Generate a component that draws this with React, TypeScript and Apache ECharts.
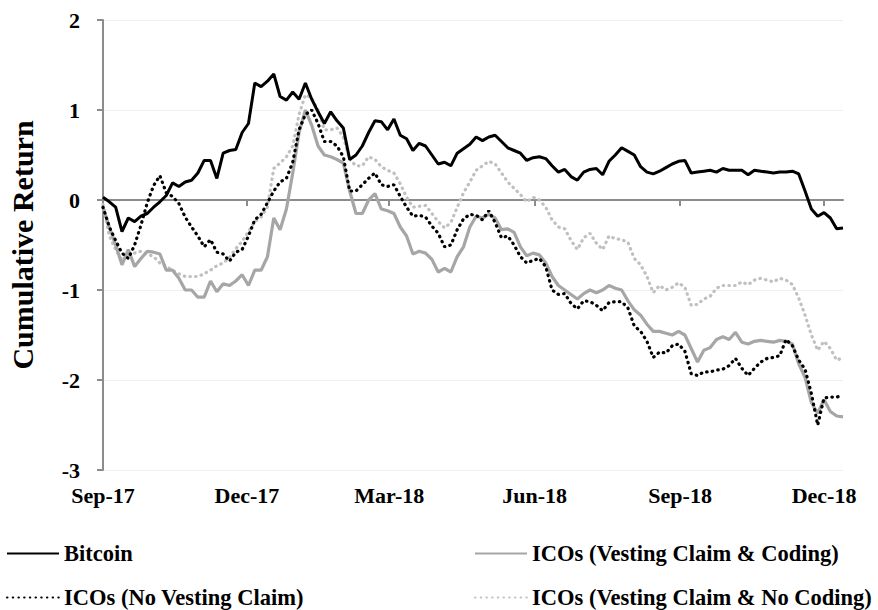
import React, { useEffect, useRef } from "react";
import * as echarts from "echarts";

// Sampling: one reading every 4 days, starting 2017-09-01
const START = Date.UTC(2017, 8, 1);
const DAYS = 469;
const STEP = 4;

const MONTHS = ["Jan", "Feb", "Mar", "Apr", "May", "Jun", "Jul", "Aug", "Sep", "Oct", "Nov", "Dec"];
const TICK_MONTHS = [8, 11, 2, 5];

const yTicks = { min: -3, max: 2, interval: 1 };

const bitcoin = [
  0.03, -0.02, -0.08, -0.35, -0.2, -0.24, -0.18, -0.15, -0.08, -0.02,
  0.05, 0.19, 0.15, 0.2, 0.22, 0.3, 0.44, 0.44, 0.24, 0.52,
  0.55, 0.56, 0.75, 0.85, 1.3, 1.26, 1.32, 1.4, 1.15, 1.11,
  1.2, 1.12, 1.3, 1.12, 0.98, 0.85, 0.98, 0.88, 0.8, 0.45,
  0.5, 0.6, 0.75, 0.88, 0.87, 0.78, 0.9, 0.72, 0.68, 0.55,
  0.63, 0.6, 0.5, 0.4, 0.42, 0.38, 0.52, 0.57, 0.62, 0.7,
  0.66, 0.7, 0.72, 0.65, 0.58, 0.55, 0.52, 0.44, 0.47, 0.48,
  0.46, 0.38, 0.31, 0.34, 0.26, 0.22, 0.31, 0.34, 0.35, 0.28,
  0.43, 0.5, 0.58, 0.54, 0.5, 0.37, 0.31, 0.29, 0.32, 0.36,
  0.4, 0.43, 0.44, 0.3, 0.31, 0.32, 0.33, 0.31, 0.35, 0.33,
  0.33, 0.33, 0.28, 0.33, 0.32, 0.31, 0.3, 0.31, 0.31, 0.32,
  0.29, 0.1, -0.1, -0.18, -0.14, -0.2, -0.32, -0.31,
];

const icoVestCoding = [
  -0.08, -0.3, -0.5, -0.72, -0.55, -0.74, -0.65, -0.57, -0.58, -0.6,
  -0.78, -0.78, -0.87, -1.0, -1.0, -1.08, -1.08, -0.9, -1.02, -0.93,
  -0.95, -0.9, -0.83, -0.95, -0.78, -0.78, -0.63, -0.2, -0.33, -0.1,
  0.3, 0.75, 1.0, 0.83, 0.6, 0.5, 0.48, 0.45, 0.41, 0.1,
  -0.15, -0.15, 0.0, 0.07, -0.1, -0.12, -0.15, -0.3, -0.4, -0.6,
  -0.57, -0.59, -0.66, -0.8, -0.76, -0.8, -0.63, -0.52, -0.3, -0.18,
  -0.2, -0.16, -0.2, -0.33, -0.32, -0.36, -0.52, -0.62, -0.59, -0.61,
  -0.7, -0.85, -0.95, -1.0, -1.05, -1.1, -1.04, -1.0, -1.03, -1.0,
  -0.95, -0.98, -1.0, -1.12, -1.22, -1.28, -1.38, -1.46, -1.46, -1.48,
  -1.5, -1.46, -1.5, -1.65, -1.8, -1.67, -1.64, -1.55, -1.52, -1.55,
  -1.47, -1.58, -1.6, -1.57, -1.56, -1.57, -1.58, -1.56, -1.57, -1.6,
  -1.82, -1.97, -2.25, -2.37, -2.22, -2.35, -2.4, -2.41,
];

const icoNoVest = [
  -0.08, -0.3, -0.45, -0.59, -0.65, -0.5, -0.28, -0.03, 0.16, 0.27,
  0.08, 0.04, -0.04, -0.19, -0.3, -0.4, -0.52, -0.44, -0.58, -0.6,
  -0.68, -0.58, -0.55, -0.4, -0.22, -0.16, -0.03, 0.1, 0.2, 0.24,
  0.42, 0.78, 0.95, 1.0, 0.85, 0.65, 0.65, 0.6, 0.48, 0.1,
  0.1, 0.17, 0.24, 0.3, 0.17, 0.15, 0.17, 0.04, -0.08, -0.18,
  -0.17, -0.19, -0.29, -0.37, -0.52, -0.5, -0.33, -0.21, -0.16, -0.17,
  -0.22, -0.12, -0.25, -0.42, -0.4, -0.5, -0.63, -0.7, -0.67, -0.65,
  -0.74, -1.0, -1.05, -1.04, -1.15, -1.21, -1.12, -1.13, -1.17, -1.23,
  -1.14, -1.13, -1.13, -1.2, -1.4, -1.46, -1.57, -1.75, -1.69, -1.7,
  -1.62, -1.6, -1.68, -1.93, -1.95, -1.91, -1.91, -1.89, -1.88, -1.84,
  -1.76, -1.87, -1.95, -1.87, -1.8, -1.76, -1.75, -1.73, -1.55, -1.62,
  -1.78, -1.88, -2.15, -2.5, -2.2, -2.19, -2.19, -2.17,
];

const icoVestNoCoding = [
  -0.05, -0.4, -0.55, -0.67, -0.62, -0.59, -0.57, -0.6, -0.63, -0.7,
  -0.74, -0.78, -0.82, -0.85, -0.85, -0.85, -0.82, -0.78, -0.73, -0.7,
  -0.64, -0.54, -0.46, -0.35, -0.24, -0.19, -0.08, 0.35, 0.41, 0.48,
  0.6, 0.95, 1.17, 1.13, 1.0, 0.78, 0.78, 0.8, 0.7, 0.45,
  0.38, 0.38, 0.48, 0.45, 0.37, 0.33, 0.3, 0.18, 0.03, -0.08,
  -0.07, -0.06, -0.15, -0.24, -0.31, -0.25, -0.08, 0.08, 0.2, 0.33,
  0.38, 0.43, 0.4, 0.3, 0.2, 0.13, 0.06, -0.02, 0.03, 0.0,
  -0.08, -0.22, -0.3, -0.32, -0.45, -0.55, -0.42, -0.37, -0.48, -0.55,
  -0.4, -0.43, -0.44, -0.47, -0.65, -0.72, -0.85, -1.03, -0.95, -1.0,
  -0.97, -0.92, -0.97, -1.17, -1.16, -1.1, -1.07, -0.98, -0.95, -0.95,
  -0.95, -0.91, -0.94, -0.89, -0.87, -0.89, -0.91, -0.87, -0.89, -0.94,
  -1.09, -1.28, -1.5, -1.67, -1.57, -1.65, -1.78, -1.75,
];

const NAMES = {
  btc: "Bitcoin",
  vc: "ICOs (Vesting Claim & Coding)",
  nv: "ICOs (No Vesting Claim)",
  vnc: "ICOs (Vesting Claim & No Coding)",
};

const FONT = "'Liberation Serif', 'Times New Roman', serif";

function buildCategories(): string[] {
  const out: string[] = [];
  for (let d = 0; d < DAYS; d++) {
    const dt = new Date(START + d * 86400000);
    const m = String(dt.getUTCMonth() + 1).padStart(2, "0");
    const dd = String(dt.getUTCDate()).padStart(2, "0");
    out.push(`${dt.getUTCFullYear()}-${m}-${dd}`);
  }
  return out;
}

function isQuarterTick(value: string): boolean {
  const [, m, d] = value.split("-").map(Number);
  return d === 1 && TICK_MONTHS.includes(m - 1);
}

function fmt(value: string): string {
  const [y, m] = value.split("-").map(Number);
  return `${MONTHS[m - 1]}-${String(y).slice(2)}`;
}

export default function App() {
  const ref = useRef<HTMLDivElement>(null);
  useEffect(() => {
    if (!ref.current) return;
    const chart = echarts.init(ref.current, null, { renderer: "svg" });
    const cats = buildCategories();
    const pairs = (arr: number[]) => arr.map((v, i) => [cats[i * STEP], v]);
    const dotted = [0.5, 5.2];
    const legendText = { fontFamily: FONT, fontWeight: "bold", fontSize: 22.5, color: "#000" };
    const legendBase = {
      itemWidth: 52,
      itemHeight: 14,
      itemGap: 4,
      padding: 0,
      textStyle: legendText,
      selectedMode: false,
      itemStyle: { opacity: 0 },
    };

    chart.setOption({
      animation: false,
      backgroundColor: "#fff",
      grid: { left: 103, right: 35, top: 20, bottom: 140, containLabel: false, outerBoundsMode: "none" },
      xAxis: {
        type: "category",
        data: cats,
        boundaryGap: false,
        axisLine: { lineStyle: { color: "#8c8c8c", width: 2 } },
        axisTick: {
          interval: (_i: number, v: string) => isQuarterTick(v),
          length: 6,
          lineStyle: { color: "#8c8c8c", width: 2 },
        },
        axisLabel: {
          interval: (_i: number, v: string) => isQuarterTick(v),
          formatter: fmt,
          margin: 14,
          fontFamily: FONT,
          fontWeight: "bold",
          fontSize: 22,
          color: "#000",
        },
        splitLine: { show: false },
      },
      yAxis: {
        type: "value",
        min: yTicks.min,
        max: yTicks.max,
        interval: yTicks.interval,
        name: "Cumulative Return",
        nameLocation: "middle",
        nameGap: 66,
        nameTextStyle: { fontFamily: FONT, fontWeight: "bold", fontSize: 30, color: "#000" },
        axisLine: { show: true, lineStyle: { color: "#8c8c8c", width: 2 } },
        axisTick: { show: true, length: 6, lineStyle: { color: "#8c8c8c", width: 2 } },
        axisLabel: { margin: 23, fontFamily: FONT, fontWeight: "bold", fontSize: 22, color: "#000" },
        splitLine: { show: true, lineStyle: { color: "#f0f0f0", width: 1 } },
      },
      legend: [
        { ...legendBase, left: 6, top: 542, data: [NAMES.btc] },
        { ...legendBase, left: 474, top: 542, data: [NAMES.vc] },
        { ...legendBase, left: 6, top: 586, data: [NAMES.nv] },
        { ...legendBase, left: 474, top: 586, data: [NAMES.vnc] },
      ],
      series: [
        {
          name: NAMES.vnc,
          type: "line",
          symbol: "none",
          data: pairs(icoVestNoCoding),
          lineStyle: { color: "#c0c0c0", width: 3.2, type: dotted, cap: "round" },
          itemStyle: { color: "#c0c0c0" },
        },
        {
          name: NAMES.vc,
          type: "line",
          symbol: "none",
          data: pairs(icoVestCoding),
          lineStyle: { color: "#a6a6a6", width: 3.2 },
          itemStyle: { color: "#a6a6a6" },
        },
        {
          name: NAMES.nv,
          type: "line",
          symbol: "none",
          data: pairs(icoNoVest),
          lineStyle: { color: "#000", width: 3.2, type: dotted, cap: "round" },
          itemStyle: { color: "#000" },
        },
        {
          name: NAMES.btc,
          type: "line",
          symbol: "none",
          data: pairs(bitcoin),
          lineStyle: { color: "#000", width: 3 },
          itemStyle: { color: "#000" },
        },
      ],
    });
    return () => chart.dispose();
  }, []);
  return <div ref={ref} style={{ position: "fixed", left: 0, top: 0, width: 878, height: 610 }} />;
}
